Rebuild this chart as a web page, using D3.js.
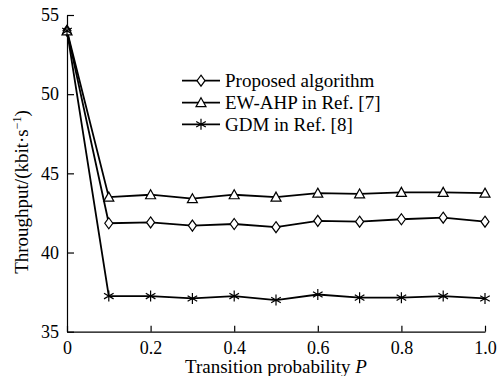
<!DOCTYPE html>
<html>
<head>
<meta charset="utf-8">
<script src="https://cdn.jsdelivr.net/npm/d3@7"></script>
<style>
    body { margin: 0; background: #fff; }
    svg { display: block; font-family: "Liberation Serif", "DejaVu Serif", serif; }
    .axis path, .axis line { stroke: #000; stroke-width: 1.2; }
    .series { fill: none; stroke: #000; stroke-width: 1.8; }
    .marker { fill: #fff; stroke: #000; stroke-width: 1.2; }
</style>
</head>
<body>
<svg id="chart" width="501" height="376"></svg>
<script>
'use strict';

// transition probability P
const probs = [0, 0.1, 0.2, 0.3, 0.4, 0.5, 0.6, 0.7, 0.8, 0.9, 1.0];

// throughput, kbit/s
const proposed = [54, 41.85, 41.9, 41.7, 41.8, 41.6, 42.0, 41.95, 42.1, 42.2, 41.95];
const ewAhp = [54, 43.5, 43.65, 43.4, 43.65, 43.5, 43.75, 43.7, 43.8, 43.8, 43.75];
const gdm = [54, 37.25, 37.25, 37.1, 37.25, 37.0, 37.35, 37.15, 37.15, 37.25, 37.1];

const xTicks = [0, 0.2, 0.4, 0.6, 0.8, 1.0];
const yTicks = [35, 40, 45, 50, 55];

const seriesNames = ['Proposed algorithm', 'EW-AHP in Ref. [7]', 'GDM in Ref. [8]'];
const seriesMarks = ['diamond', 'triangle', 'star'];

const svg = d3.select('#chart');

const plotLeft = 67, plotRight = 485, plotTop = 15, plotBottom = 331.7;

const x = d3.scaleLinear().domain([0, 1]).range([plotLeft, plotRight]);
const y = d3.scaleLinear().domain([35, 55]).range([plotBottom, plotTop]);

// marker shapes, centred on 0,0
const markerPath = (type) => {
    if (type === 'diamond') {
        return 'M0,-5.5L4,0L0,5.5L-4,0Z';
    }
    if (type === 'triangle') {
        return 'M0,-5L5,4L-5,4Z';
    }
    // asterisk
    let p = 'M0,-5.5L0,5.5';
    p += 'M-4.8,-2.8L4.8,2.8';
    p += 'M-4.8,2.8L4.8,-2.8';
    return p;
};

// axes (drop d3's default sans-serif 10px so the serif face is used)
const gx = svg.append('g')
    .attr('class', 'axis axis--x')
    .attr('transform', 'translate(0,' + plotBottom + ')')
    .call(d3.axisBottom(x)
        .tickValues(xTicks)
        .tickSizeInner(-6)
        .tickSizeOuter(0)
        .tickPadding(5)
        .tickFormat(d => d === 0 ? '0' : d3.format('.1f')(d)))
    .attr('font-family', null)
    .attr('font-size', 18);
gx.selectAll('.tick text')
    .attr('dy', '0.95em')
    .attr('fill', '#000');

const gy = svg.append('g')
    .attr('class', 'axis axis--y')
    .attr('transform', 'translate(' + plotLeft + ',0)')
    .call(d3.axisLeft(y)
        .tickValues(yTicks)
        .tickSizeInner(-7)
        .tickSizeOuter(0)
        .tickPadding(8))
    .attr('font-family', null)
    .attr('font-size', 18);
gy.selectAll('.tick text').attr('fill', '#000');

// axis titles
svg.append('text')
    .attr('x', (plotLeft + plotRight) / 2)
    .attr('y', 373)
    .attr('text-anchor', 'middle')
    .style('font-size', '19px')
    .html('Transition probability <tspan font-style="italic">P</tspan>');

const yTitle = svg.append('text')
    .attr('transform', 'translate(28,192) rotate(-90)')
    .attr('text-anchor', 'middle')
    .style('font-size', '19px');
yTitle.append('tspan').text('Throughput/(kbit\u00B7s');
yTitle.append('tspan').attr('dy', -7).style('font-size', '12px').text('\u22121');
yTitle.append('tspan').attr('dy', 7).text(')');

// series
const line = d3.line()
    .x((d, i) => x(probs[i]))
    .y(d => y(d));

const allSeries = [proposed, ewAhp, gdm];

allSeries.forEach((values) => {
    svg.append('path')
        .datum(values)
        .attr('class', 'series')
        .attr('d', line);
});

allSeries.forEach((values, k) => {
    svg.selectAll('.mk' + k)
        .data(values)
        .enter().append('path')
        .attr('class', 'marker mk' + k)
        .attr('transform', (d, i) => 'translate(' + x(probs[i]) + ',' + y(d) + ')')
        .attr('d', markerPath(seriesMarks[k]));
});

// legend
const legend = svg.append('g').attr('class', 'legend');
const legendRows = [80.7, 102.7, 124.3];

seriesNames.forEach((name, k) => {
    const row = legend.append('g')
        .attr('transform', 'translate(0,' + legendRows[k] + ')');
    row.append('line')
        .attr('x1', 182).attr('x2', 220)
        .attr('y1', 0).attr('y2', 0)
        .attr('stroke', '#000')
        .attr('stroke-width', 1.8);
    row.append('path')
        .attr('class', 'marker')
        .attr('transform', 'translate(201,0)')
        .attr('d', markerPath(seriesMarks[k]));
    row.append('text')
        .attr('x', 225)
        .attr('y', 0)
        .attr('dy', '0.35em')
        .style('font-size', '19px')
        .text(name);
});
</script>
</body>
</html>
